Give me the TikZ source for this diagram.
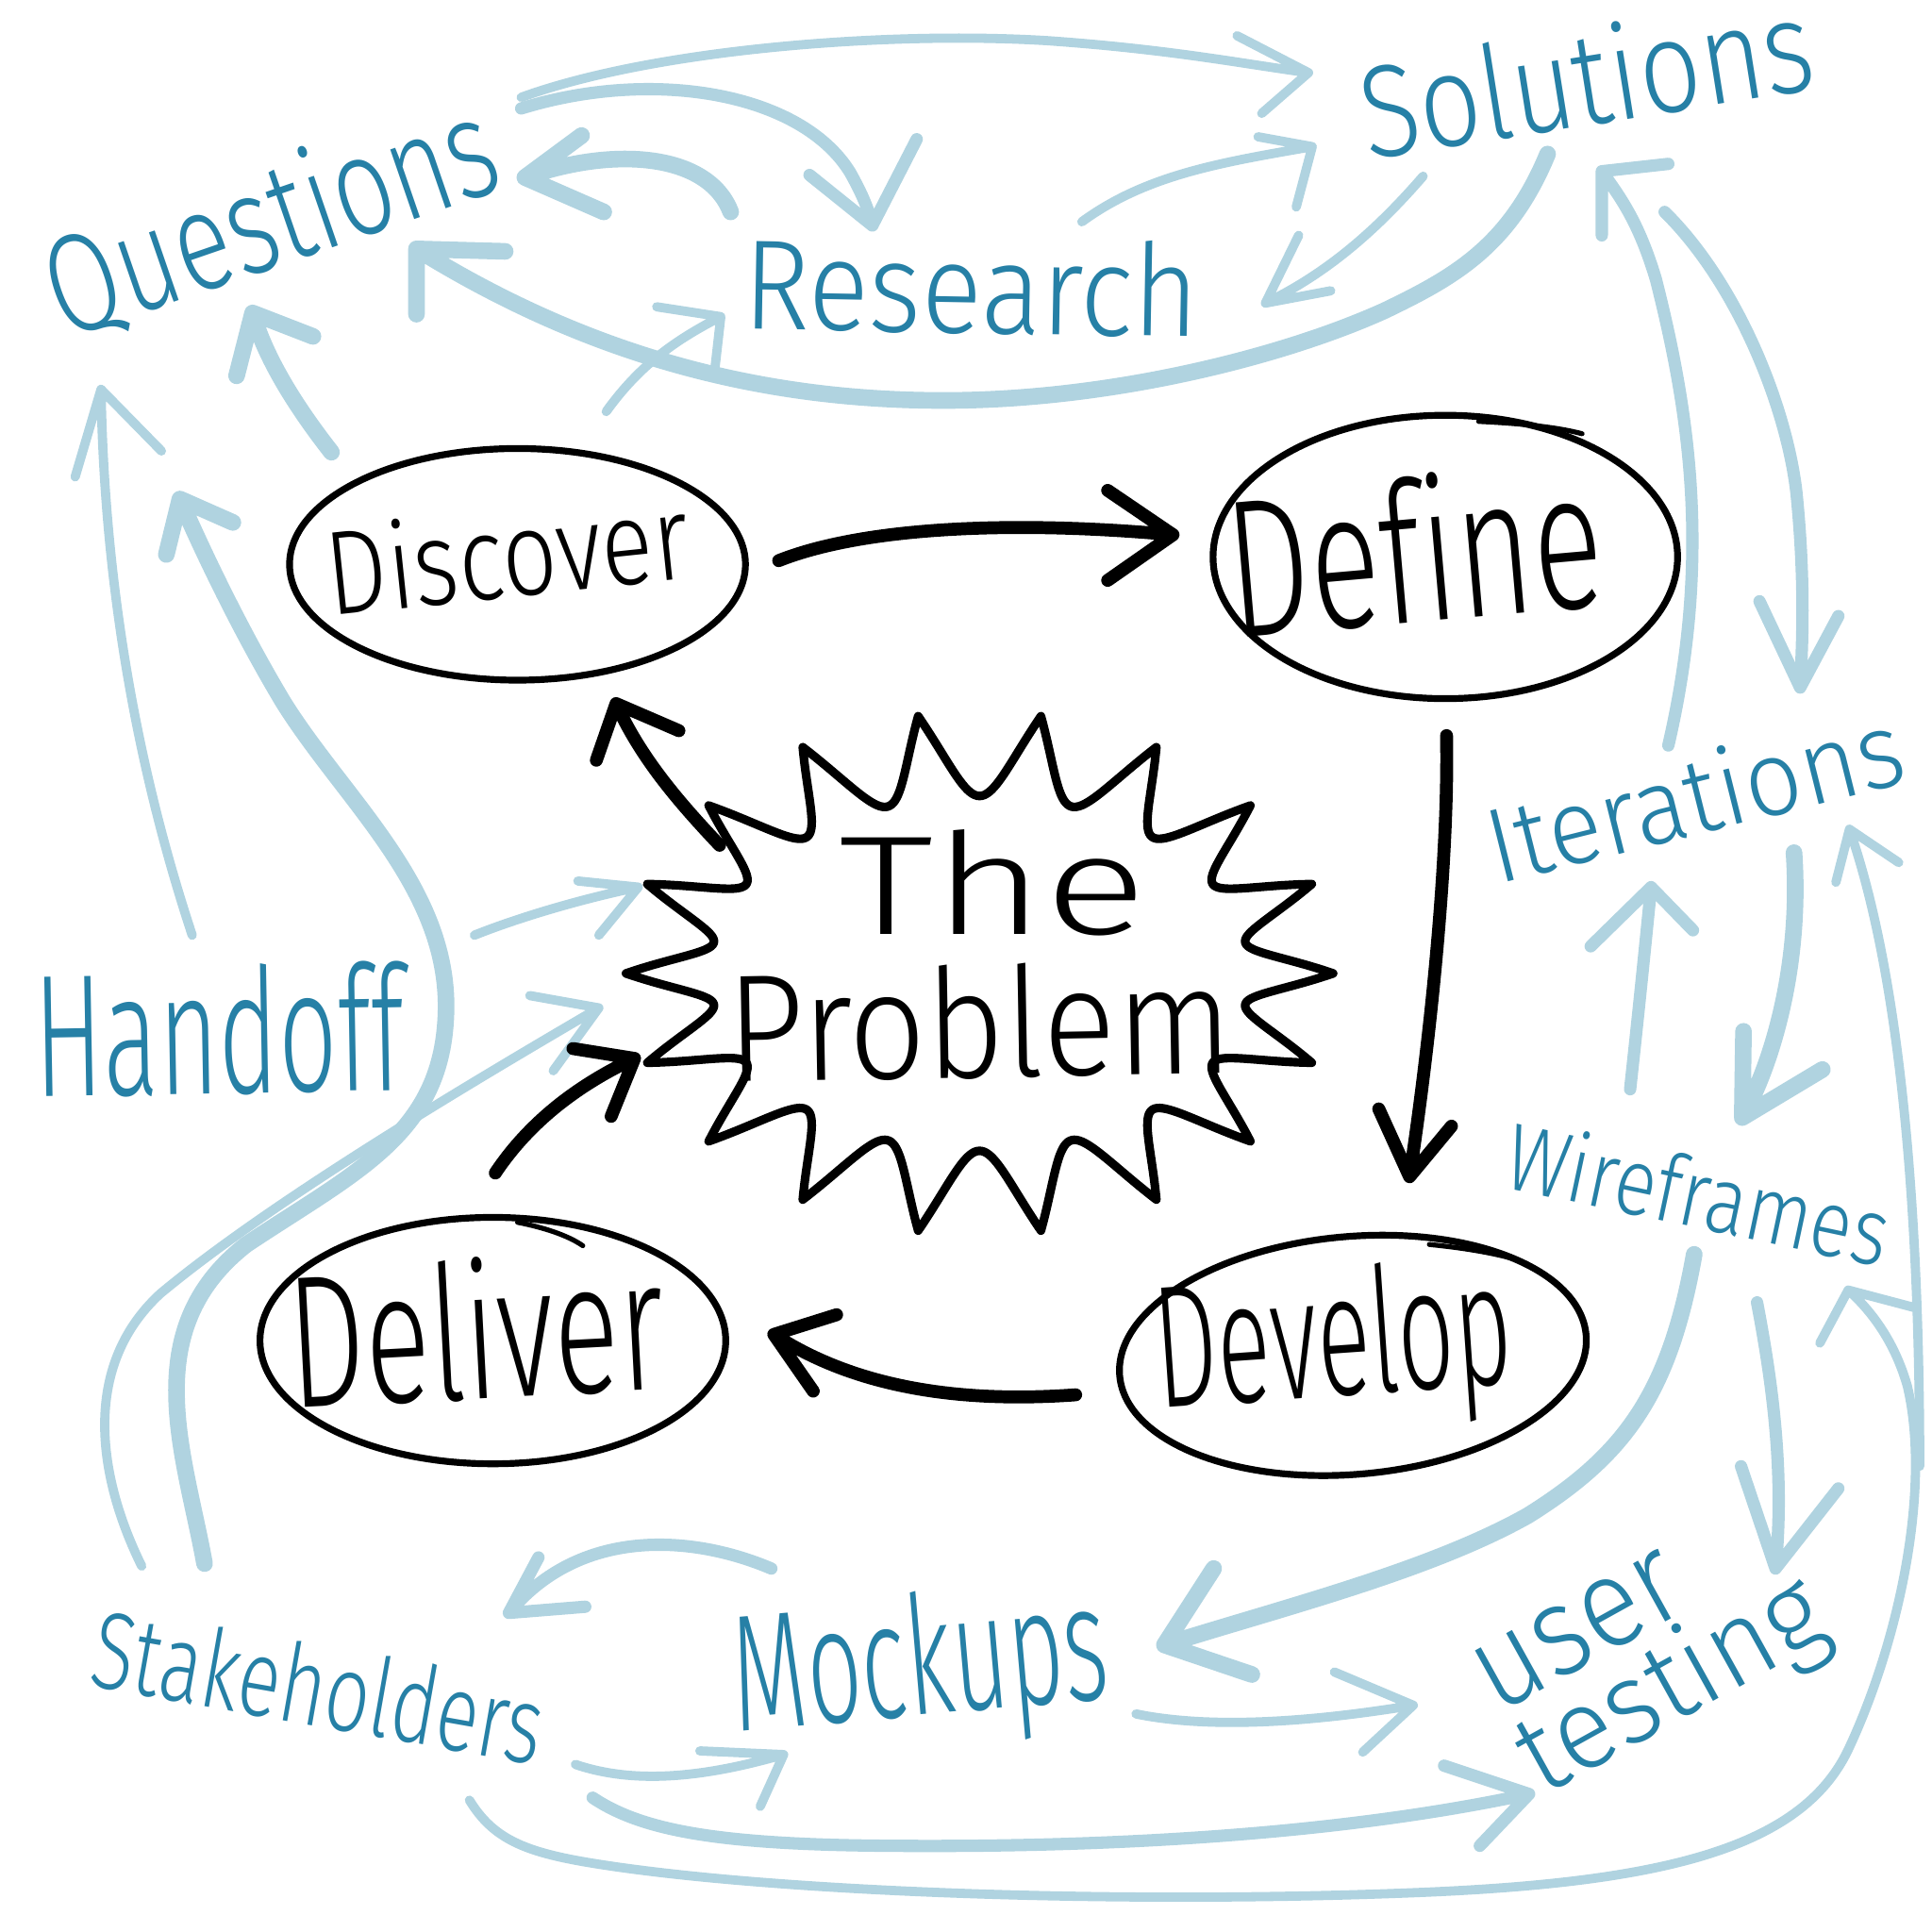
\documentclass[tikz,border=0pt]{standalone}
\usepackage{fontspec}
\IfFontExistsTF{Fira Sans Light}{\setmainfont{Fira Sans Light}}{%
 \IfFontExistsTF{Lato Light}{\setmainfont{Lato Light}}{%
  \IfFontExistsTF{Open Sans Light}{\setmainfont{Open Sans Light}}{%
   \setmainfont{Fira Sans}}}}
\usetikzlibrary{shapes.geometric}
\definecolor{tb}{RGB}{38,128,166}
\definecolor{lb}{RGB}{176,211,224}
\newcommand\fitlbl[3]{\resizebox{#1}{#2}{#3}}
\begin{document}
\begin{tikzpicture}[x=0.1mm,y=-0.1mm,
  arrthin/.style={draw=lb, line width=0.75mm, line cap=round, line join=round},
  arrmid/.style={arrthin, line width=1.0mm},
  arrthick/.style={arrthin, line width=1.35mm},
  arrblack/.style={draw=black, line width=1.05mm, line cap=round, line join=round},
  oval/.style={draw=black, ellipse, line width=0.55mm, inner sep=0pt},
  flour/.style={draw=black, line width=0.4mm, line cap=round},
  lbl/.style={text=tb, inner sep=0pt, anchor=base west},
  blbl/.style={text=black, inner sep=0pt, anchor=base west}]
\fill[white] (0,0) rectangle (1568,1568);
\useasboundingbox (0,0) rectangle (1568,1568);

% ---------- light connector end points ----------
\coordinate (a1s) at (423,79);   \coordinate (a1t) at (1062,59);
\coordinate (a2s) at (423,88);   \coordinate (a2t) at (708,183);
\coordinate (a3s) at (593,172);  \coordinate (a3t) at (426,144);
\coordinate (a4s) at (878,180);  \coordinate (a4t) at (1065,119);
\coordinate (a5s) at (1155,143); \coordinate (a5t) at (1027,246);
\coordinate (a6s) at (1256,125); \coordinate (a6t) at (338,202);
\coordinate (a7s) at (269,367);  \coordinate (a7t) at (205,254);
\coordinate (a8s) at (492,334);  \coordinate (a8t) at (585,257);
\coordinate (a9s) at (156,759);  \coordinate (a9t) at (82,316);
\coordinate (a10s) at (166,1269); \coordinate (a10t) at (146,405);
\coordinate (a11s) at (115,1271); \coordinate (a11t) at (486,818);
\coordinate (a12s) at (385,759);  \coordinate (a12t) at (518,720);
\coordinate (a13s) at (1354,605); \coordinate (a13t) at (1300,139);
\coordinate (a14s) at (1351,172); \coordinate (a14t) at (1461,558);
\coordinate (a15s) at (1323,884); \coordinate (a15t) at (1340,720);
\coordinate (a16s) at (1456,692); \coordinate (a16t) at (1414,907);
\coordinate (a17s) at (1558,1190); \coordinate (a17t) at (1501,673);
\coordinate (a18s) at (381,1461); \coordinate (a18t) at (1500,1047);
\coordinate (a19s) at (481,1459); \coordinate (a19t) at (1241,1456);
\coordinate (a20s) at (922,1391); \coordinate (a20t) at (1147,1384);
\coordinate (a21s) at (1375,1018); \coordinate (a21t) at (945,1335);
\coordinate (a22s) at (626,1273); \coordinate (a22t) at (413,1309);
\coordinate (a23s) at (467,1432); \coordinate (a23t) at (636,1424);
\coordinate (a24s) at (1426,1057); \coordinate (a24t) at (1441,1273);

% ---------- light connectors ----------
\draw[arrthin] (a1s) .. controls (530,40) and (720,25) .. (850,33) .. controls (950,40) and (1010,52) .. (a1t) ++(-58,-30) -- (a1t) -- ++(-38,33);
\draw[arrmid] (a2s) .. controls (530,55) and (650,75) .. (690,140) .. controls (700,158) and (705,170) .. (a2t) ++(-51,-41) -- (a2t) -- ++(36,-70);
\draw[arrthick] (a3s) .. controls (575,125) and (500,118) .. (a3t) ++(46,-34) -- (a3t) -- ++(64,28);
\draw[arrthin] (a4s) .. controls (930,142) and (990,132) .. (a4t) ++(-44,-8) -- (a4t) -- ++(-13,49);
\draw[arrthin] (a5s) .. controls (1110,195) and (1070,225) .. (a5t) ++(27,-55) -- (a5t) -- ++(53,-10);
\draw[arrthick] (a6s) .. controls (1225,200) and (1180,225) .. (1124,252) .. controls (1040,290) and (900,325) .. (766,325) .. controls (620,325) and (480,290) .. (a6t) ++(72,2) -- (a6t) -- ++(0,53);
\draw[arrthick] (a7s) .. controls (240,330) and (215,290) .. (a7t) ++(-13,51) -- (a7t) -- ++(49,19);
\draw[arrthin] (a8s) .. controls (520,295) and (550,275) .. (a8t) ++(-52,-8) -- (a8t) -- ++(-5,44);
\draw[arrthin] (a9s) .. controls (120,650) and (85,500) .. (a9t) ++(-21,71) -- (a9t) -- ++(49,50);
\draw[arrthick] (a10s) .. controls (150,1180) and (110,1080) .. (200,1010) .. controls (290,950) and (360,920) .. (362,820) .. controls (364,720) and (280,650) .. (230,570) .. controls (200,520) and (170,460) .. (a10t) ++(-11,45) -- (a10t) -- ++(43,19);
\draw[arrthin] (a11s) .. controls (80,1200) and (65,1110) .. (130,1050) .. controls (220,975) and (380,880) .. (a11t) ++(-56,-10) -- (a11t) -- ++(-37,51);
\draw[arrthin] (a12s) .. controls (420,745) and (470,730) .. (a12t) ++(-49,-5) -- (a12t) -- ++(-32,39);
\draw[arrmid] (a13s) .. controls (1390,450) and (1370,330) .. (1344,227) .. controls (1330,180) and (1315,160) .. (a13t) ++(0,52) -- (a13t) -- ++(54,-6);
\draw[arrmid] (a14s) .. controls (1410,230) and (1450,330) .. (1458,400) .. controls (1465,470) and (1463,520) .. (a14t) ++(-33,-70) -- (a14t) -- ++(31,-58);
\draw[arrmid] (a15s) .. controls (1330,820) and (1335,770) .. (a15t) ++(-49,48) -- (a15t) -- ++(34,35);
\draw[arrthick] (a16s) .. controls (1462,780) and (1440,860) .. (a16t) ++(1,-70) -- (a16t) -- ++(65,-39);
\draw[arrthin] (a17s) .. controls (1558,1000) and (1545,800) .. (a17t) ++(-11,43) -- (a17t) -- ++(40,27);
\draw[arrthin] (a18s) .. controls (400,1492) and (425,1503) .. (480,1512) .. controls (620,1535) and (900,1546) .. (1150,1536) .. controls (1350,1528) and (1462,1500) .. (1500,1420) .. controls (1540,1335) and (1568,1210) .. (1548,1125) .. controls (1538,1090) and (1520,1065) .. (a18t) ++(-23,43) -- (a18t) -- ++(53,14);
\draw[arrmid] (a19s) .. controls (520,1485) and (580,1497) .. (720,1498) .. controls (950,1500) and (1120,1482) .. (a19t) ++(-69,-23) -- (a19t) -- ++(-40,42);
\draw[arrthin] (a20s) .. controls (990,1405) and (1080,1395) .. (a20t) ++(-64,-27) -- (a20t) -- ++(-41,38);
\draw[arrthick] (a21s) .. controls (1355,1130) and (1320,1180) .. (1240,1230) .. controls (1160,1275) and (1040,1305) .. (a21t) ++(40,-62) -- (a21t) -- ++(71,24);
\draw[arrmid] (a22s) .. controls (560,1245) and (470,1240) .. (a22t) ++(24,-45) -- (a22t) -- ++(62,-5);
\draw[arrthin] (a23s) .. controls (520,1450) and (580,1440) .. (a23t) ++(-68,-3) -- (a23t) -- ++(-19,42);
\draw[arrmid] (a24s) .. controls (1440,1130) and (1448,1200) .. (a24t) ++(-28,-83) -- (a24t) -- ++(51,-65);

% ---------- blue labels ----------
\node[lbl, rotate=19] (qst) at (52,276) {\fitlbl{3.8cm}{0.86cm}{Questions}};
\node[lbl, rotate=-1] (rsc) at (602,267) {\fitlbl{3.7cm}{0.77cm}{Research}};
\node[lbl, rotate=9] (sol) at (1110,130) {\fitlbl{3.7cm}{0.8cm}{Solutions}};
\node[lbl, rotate=14] (itr) at (1215,718) {\fitlbl{3.45cm}{0.65cm}{Iterations}};
\node[lbl, rotate=-12] (wfr) at (1218,963) {\fitlbl{3.15cm}{0.58cm}{Wireframes}};
\node[lbl, rotate=29] (ust) at (1215,1392) {\begin{tabular}[t]{@{}l@{}}\fitlbl{1.8cm}{0.55cm}{user}\\[-0.07cm]\fitlbl{2.7cm}{0.7cm}{testing}\end{tabular}};
\node[lbl, rotate=5] (mck) at (598,1405) {\fitlbl{3.05cm}{1.0cm}{Mockups}};
\node[lbl, rotate=-10] (stk) at (70,1368) {\fitlbl{3.7cm}{0.66cm}{Stakeholders}};
\node[lbl, rotate=1] (hnd) at (28,890) {\fitlbl{3.0cm}{1.05cm}{Handoff}};

% ---------- black ovals ----------
\node[oval, minimum width=3.7cm, minimum height=1.88cm] (dsc) at (420,458) {};
\node[oval, minimum width=3.77cm, minimum height=2.3cm] (dfn) at (1173,452) {};
\node[oval, minimum width=3.78cm, minimum height=2.0cm] (dlv) at (400,1088) {};
\node[oval, minimum width=3.8cm, minimum height=1.93cm, rotate=5] (dvl) at (1098,1100) {};
\draw[flour] (1200,342) .. controls (1240,344) and (1265,347) .. (1284,352);
\draw[flour] (420,992) .. controls (440,996) and (460,1002) .. (473,1011);
\draw[flour] (1160,1010) .. controls (1190,1013) and (1212,1017) .. (1230,1022);

\node[blbl, rotate=6] (dsct) at (268,500) {\fitlbl{2.95cm}{0.73cm}{Discover}};
\node[blbl, rotate=5] (dfnt) at (1000,518) {\fitlbl{3.05cm}{1.2cm}{Def\kern0pt ine}};
\node[blbl, rotate=3] (dlvt) at (236,1143) {\fitlbl{3.05cm}{1.15cm}{Deliver}};
\node[blbl, rotate=4] (dvlt) at (940,1143) {\fitlbl{2.9cm}{1.05cm}{Develop}};

% ---------- the problem burst ----------
\draw[black, line width=0.7mm, line join=round]
  plot[domain=0:360, samples=721, variable=\t]
  ({795+(287-68*abs(sin(9*\t)))*cos(\t)},
   {790+(212-68*abs(sin(9*\t)))*sin(\t)}) -- cycle;
\node[blbl] (the) at (680,758) {\fitlbl{2.5cm}{0.85cm}{The}};
\node[blbl, rotate=1] (prb) at (590,878) {\fitlbl{4.1cm}{0.92cm}{Problem}};

% ---------- black connectors ----------
\coordinate (b1s) at (632,455);  \coordinate (b1t) at (952,434);
\coordinate (b2s) at (1174,597); \coordinate (b2t) at (1144,955);
\coordinate (b3s) at (873,1132); \coordinate (b3t) at (628,1083);
\coordinate (b4s) at (402,952);  \coordinate (b4t) at (515,859);
\coordinate (b5s) at (584,686);  \coordinate (b5t) at (500,571);
\draw[arrblack] (b1s) .. controls (700,428) and (820,422) .. (b1t) ++(-53,-36) -- (b1t) -- ++(-53,37);
\draw[arrblack] (b2s) .. controls (1176,700) and (1160,850) .. (b2t) ++(-25,-55) -- (b2t) -- ++(34,-41);
\draw[arrblack] (b3s) .. controls (790,1138) and (700,1130) .. (b3t) ++(51,-16) -- (b3t) -- ++(32,46);
\draw[arrblack] (b4s) .. controls (430,910) and (470,880) .. (b4t) ++(-50,-8) -- (b4t) -- ++(-19,47);
\draw[arrblack] (b5s) .. controls (550,650) and (520,615) .. (b5t) ++(-16,46) -- (b5t) -- ++(51,22);
\end{tikzpicture}
\end{document}
